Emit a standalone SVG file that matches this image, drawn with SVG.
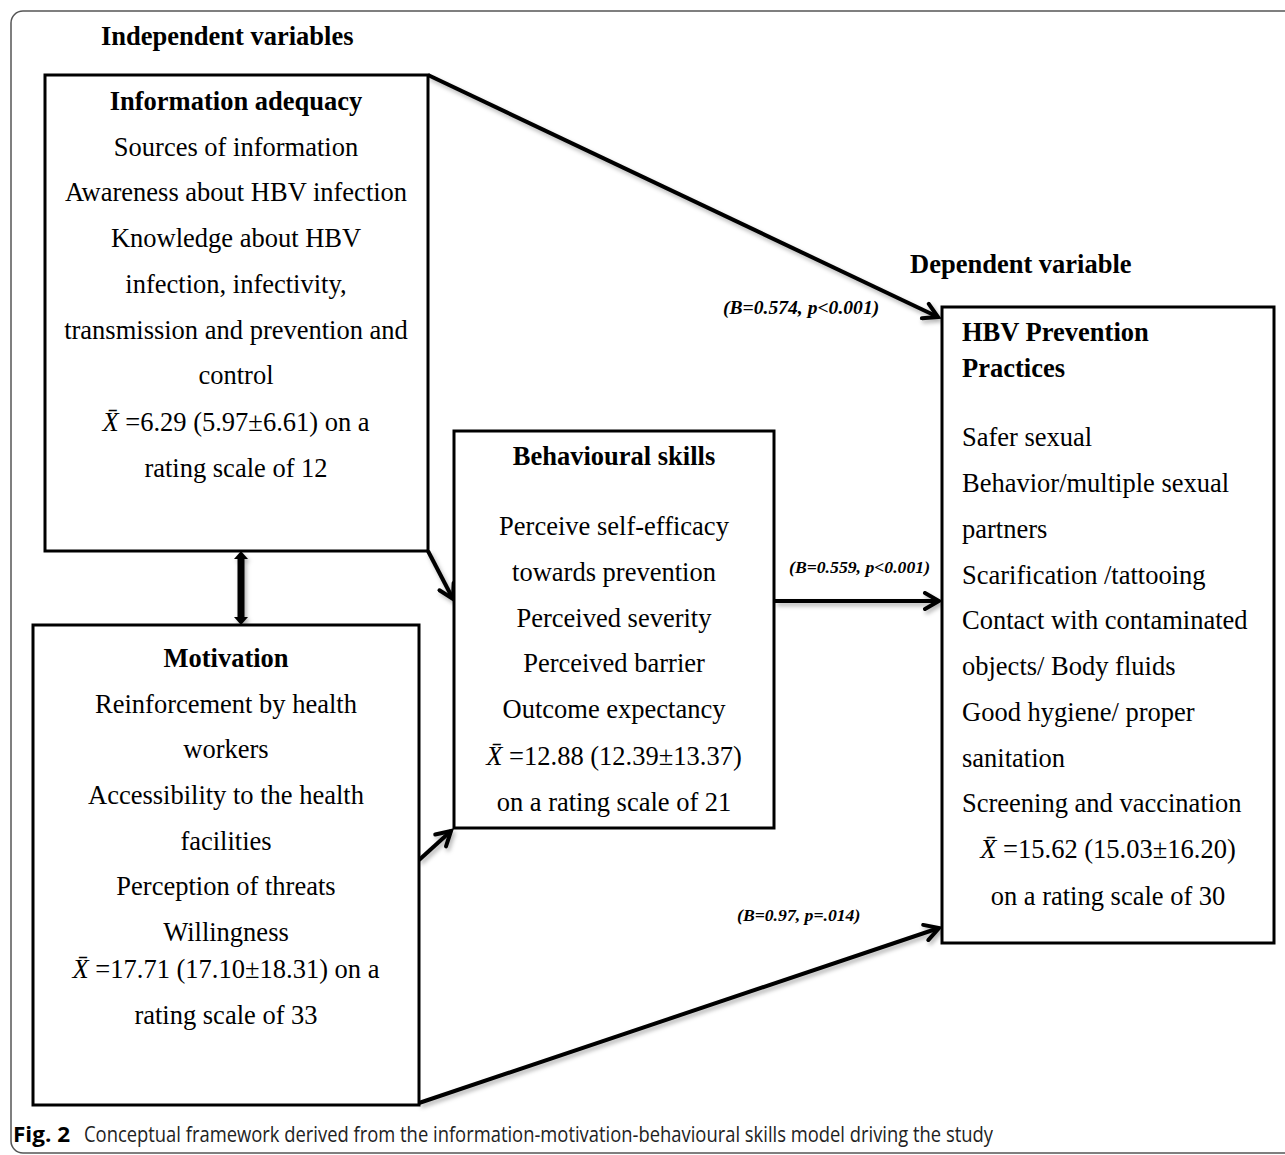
<svg xmlns="http://www.w3.org/2000/svg" width="1285" height="1155" viewBox="0 0 1285 1155">
<defs>
<style>
.t{font-family:"Liberation Serif","Times New Roman",serif;font-size:26.5px;fill:#000}
.b{font-weight:bold}
.c{text-anchor:middle}
.lab{font-family:"Liberation Serif","Times New Roman",serif;font-size:17.7px;font-weight:bold;font-style:italic;fill:#000}
.big{font-size:19.6px}
.box{fill:#fff;stroke:#000;stroke-width:3}
.con{fill:none;stroke:#000;stroke-width:4;marker-end:url(#arr)}
.cap{font-family:"Open Sans","Liberation Sans",sans-serif;font-size:21px;fill:#222}
</style>
<marker id="arr" viewBox="0 0 20 20" markerWidth="20" markerHeight="20" refX="17" refY="10" orient="auto" markerUnits="userSpaceOnUse">
<path d="M3,2 L17,10 L3,18" fill="none" stroke="#000" stroke-width="4" stroke-linecap="round" stroke-linejoin="miter"/>
</marker>
<filter id="sh" x="-20%" y="-20%" width="140%" height="140%">
<feDropShadow dx="2" dy="3" stdDeviation="2" flood-color="#000" flood-opacity="0.3"/>
</filter>
</defs>
<rect width="1285" height="1155" fill="#fff"/>
<rect x="11" y="11" width="1300" height="1142" rx="12" ry="12" fill="none" stroke="#555" stroke-width="1.5"/>

<text class="t b" x="101" y="45">Independent variables</text>
<text class="t b" x="910" y="273">Dependent variable</text>

<g id="connectors" filter="url(#sh)">
<line class="con" x1="428" y1="75" x2="938" y2="317"/>
<line class="con" x1="428" y1="551" x2="453" y2="599"/>
<line class="con" x1="775" y1="601" x2="939" y2="601"/>
<line class="con" x1="419" y1="860" x2="451" y2="831"/>
<line class="con" x1="419" y1="1103" x2="939" y2="928"/>
<polygon points="241,551 248,559 244.5,559 244.5,617 248,617 241,625 234,617 237.5,617 237.5,559 234,559" fill="#000"/>
</g>

<g id="info">
<rect class="box" x="45" y="75" width="383" height="476"/>
<text class="t b c" x="236" y="110">Information adequacy</text>
<text class="t c" x="236" y="156">Sources of information</text>
<text class="t c" x="236" y="201">Awareness about HBV infection</text>
<text class="t c" x="236" y="247">Knowledge about HBV</text>
<text class="t c" x="236" y="293">infection, infectivity,</text>
<text class="t c" x="236" y="339">transmission and prevention and</text>
<text class="t c" x="236" y="384">control</text>
<text class="t c" x="236" y="431"><tspan font-style="italic">X̄</tspan> =6.29 (5.97±6.61) on a</text>
<text class="t c" x="236" y="477">rating scale of 12</text>
</g>

<g id="motivation">
<rect class="box" x="33" y="625" width="386" height="480"/>
<text class="t b c" x="226" y="667">Motivation</text>
<text class="t c" x="226" y="713">Reinforcement by health</text>
<text class="t c" x="226" y="758">workers</text>
<text class="t c" x="226" y="804">Accessibility to the health</text>
<text class="t c" x="226" y="850">facilities</text>
<text class="t c" x="226" y="895">Perception of threats</text>
<text class="t c" x="226" y="941">Willingness</text>
<text class="t c" x="226" y="978"><tspan font-style="italic">X̄</tspan> =17.71 (17.10±18.31) on a</text>
<text class="t c" x="226" y="1024">rating scale of 33</text>
</g>

<g id="behavioural">
<rect class="box" x="454" y="431" width="320" height="397"/>
<text class="t b c" x="614" y="465">Behavioural skills</text>
<text class="t c" x="614" y="535">Perceive self-efficacy</text>
<text class="t c" x="614" y="581">towards prevention</text>
<text class="t c" x="614" y="627">Perceived severity</text>
<text class="t c" x="614" y="672">Perceived barrier</text>
<text class="t c" x="614" y="718">Outcome expectancy</text>
<text class="t c" x="614" y="765"><tspan font-style="italic">X̄</tspan> =12.88 (12.39±13.37)</text>
<text class="t c" x="614" y="811">on a rating scale of 21</text>
</g>

<g id="hbv">
<rect class="box" x="942" y="307" width="332" height="636"/>
<text class="t b" x="962" y="341">HBV Prevention</text>
<text class="t b" x="962" y="377">Practices</text>
<text class="t" x="962" y="446">Safer sexual</text>
<text class="t" x="962" y="492">Behavior/multiple sexual</text>
<text class="t" x="962" y="538">partners</text>
<text class="t" x="962" y="584">Scarification /tattooing</text>
<text class="t" x="962" y="629">Contact with contaminated</text>
<text class="t" x="962" y="675">objects/ Body fluids</text>
<text class="t" x="962" y="721">Good hygiene/ proper</text>
<text class="t" x="962" y="767">sanitation</text>
<text class="t" x="962" y="812">Screening and vaccination</text>
<text class="t c" x="1108" y="858"><tspan font-style="italic">X̄</tspan> =15.62 (15.03±16.20)</text>
<text class="t c" x="1108" y="905">on a rating scale of 30</text>
</g>

<g id="labels">
<text class="lab big" x="723" y="314">(B=0.574, p&lt;0.001)</text>
<text class="lab" x="789" y="573">(B=0.559, p&lt;0.001)</text>
<text class="lab" x="737" y="921">(B=0.97, p=.014)</text>
</g>

<text class="cap" x="13" y="1142"><tspan font-weight="bold" fill="#000" textLength="57" lengthAdjust="spacingAndGlyphs">Fig. 2</tspan><tspan x="84" textLength="909" lengthAdjust="spacingAndGlyphs">Conceptual framework derived from the information-motivation-behavioural skills model driving the study</tspan></text>
</svg>
